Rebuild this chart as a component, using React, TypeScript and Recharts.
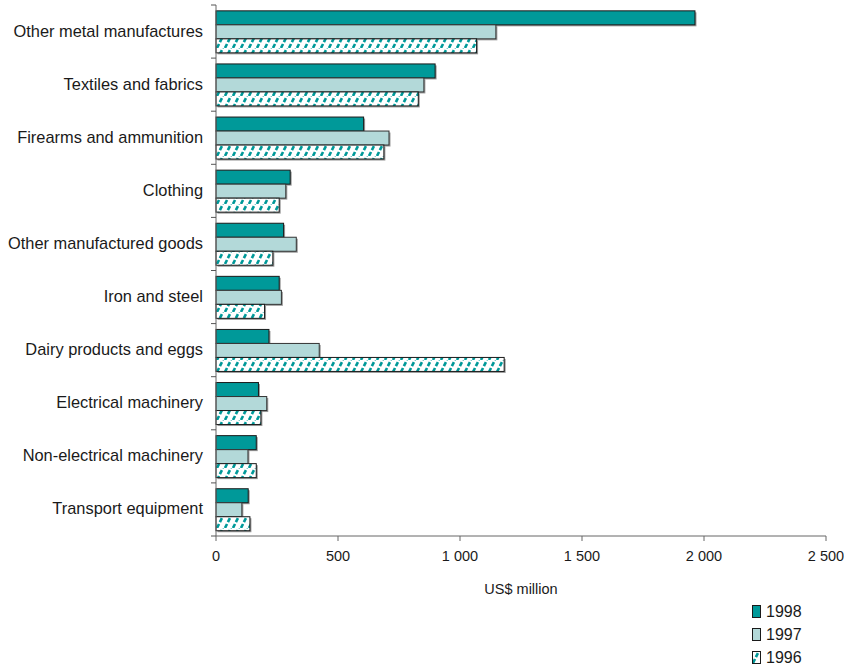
import React from 'react';
import { BarChart, Bar, XAxis, YAxis, Label } from 'recharts';

const categories = [
  'Other metal manufactures',
  'Textiles and fabrics',
  'Firearms and ammunition',
  'Clothing',
  'Other manufactured goods',
  'Iron and steel',
  'Dairy products and eggs',
  'Electrical machinery',
  'Non-electrical machinery',
  'Transport equipment',
];
const values1998 = [1963, 898, 605, 304, 277, 259, 217, 174, 165, 132];
const values1997 = [1147, 852, 709, 286, 329, 268, 423, 208, 131, 106];
const values1996 = [1068, 829, 688, 259, 233, 199, 1181, 184, 165, 139];
const xTicks = [0, 500, 1000, 1500, 2000, 2500];

const data = categories.map((name, i) => ({
  name,
  y1998: values1998[i],
  y1997: values1997[i],
  y1996: values1996[i],
}));

const TEAL = '#009999';
const LIGHT = '#b3d9d9';
const FONT = '"Liberation Sans", Arial, sans-serif';
const TICK_SIZE = 5;
const TICK_MARGIN = 8;

const fmt = (v: number) => String(v).replace(/\B(?=(\d{3})+(?!\d))/g, ' ');

// bar with a small grey drop shadow
const ShadowBar = (props: any) => {
  const { x, y, width, height, fill, stroke } = props;
  if (!width || width <= 0) return null;
  return (
    <g>
      <rect x={x + 1.5} y={y + 1.5} width={width} height={height} fill="#9a9a9a" />
      <rect x={x} y={y} width={width} height={height} fill={fill} stroke={stroke} strokeWidth={1} />
    </g>
  );
};

// label at band centre, tick marks at band boundaries
const CategoryTick = (props: any) => {
  const { x, y, payload, index, visibleTicksCount } = props;
  const axisX = x + TICK_SIZE + TICK_MARGIN;
  const half = payload.offset || 0;
  return (
    <g>
      <line x1={axisX - TICK_SIZE} x2={axisX} y1={y - half} y2={y - half} stroke="#555" />
      {index === visibleTicksCount - 1 && (
        <line x1={axisX - TICK_SIZE} x2={axisX} y1={y + half} y2={y + half} stroke="#555" />
      )}
      <text x={x} y={y} dy={5} textAnchor="end" fontSize={16.4} fill="#1a1a1a" fontFamily={FONT}>
        {payload.value}
      </text>
    </g>
  );
};

const legendItems = [
  { label: '1998', fill: TEAL },
  { label: '1997', fill: LIGHT },
  { label: '1996', fill: 'url(#hatch96)' },
];

export default function App() {
  return (
    <div style={{ position: 'absolute', left: 0, top: 0, width: 844, height: 668, background: '#fff', fontFamily: FONT }}>
      <svg width={0} height={0} style={{ position: 'absolute' }}>
        <defs>
          <pattern id="hatch96" patternUnits="userSpaceOnUse" width={8} height={12}>
            <rect width={8} height={12} fill="#fff" />
            <path d="M1,12 L7,0" stroke={TEAL} strokeWidth={2.6} strokeDasharray="4.5 2" />
          </pattern>
        </defs>
      </svg>
      <BarChart
        width={844}
        height={668}
        data={data}
        layout="vertical"
        margin={{ top: 5, right: 18, left: 0, bottom: 72 }}
        barCategoryGap="11%"
        barGap={0}
      >
        <XAxis
          type="number"
          domain={[0, 2500]}
          ticks={xTicks}
          tickFormatter={fmt}
          stroke="#666"
          tickSize={5}
          tickMargin={10}
          height={60}
          tick={{ fontSize: 14.5, fill: '#1a1a1a', fontFamily: FONT }}
        >
          <Label value="US$ million" position="insideBottom" offset={2} fontSize={14.5} fill="#1a1a1a" fontFamily={FONT} />
        </XAxis>
        <YAxis
          type="category"
          dataKey="name"
          width={216}
          stroke="#666"
          tickLine={false}
          tickSize={TICK_SIZE}
          tickMargin={TICK_MARGIN}
          tick={<CategoryTick />}
        />
        <Bar dataKey="y1998" fill={TEAL} stroke="#1a1a1a" shape={<ShadowBar />} isAnimationActive={false} />
        <Bar dataKey="y1997" fill={LIGHT} stroke="#333" shape={<ShadowBar />} isAnimationActive={false} />
        <Bar dataKey="y1996" fill="url(#hatch96)" stroke="#1a1a1a" shape={<ShadowBar />} isAnimationActive={false} />
      </BarChart>
      <div style={{ position: 'absolute', left: 752, top: 600 }}>
        {legendItems.map((it) => (
          <div key={it.label} style={{ display: 'flex', alignItems: 'center', height: 23, fontSize: 16, color: '#1a1a1a' }}>
            <svg width={10} height={14} style={{ marginRight: 4 }}>
              <rect x={0.5} y={0.5} width={8} height={12} fill={it.fill} stroke="#1a1a1a" strokeWidth={1} />
            </svg>
            {it.label}
          </div>
        ))}
      </div>
    </div>
  );
}
